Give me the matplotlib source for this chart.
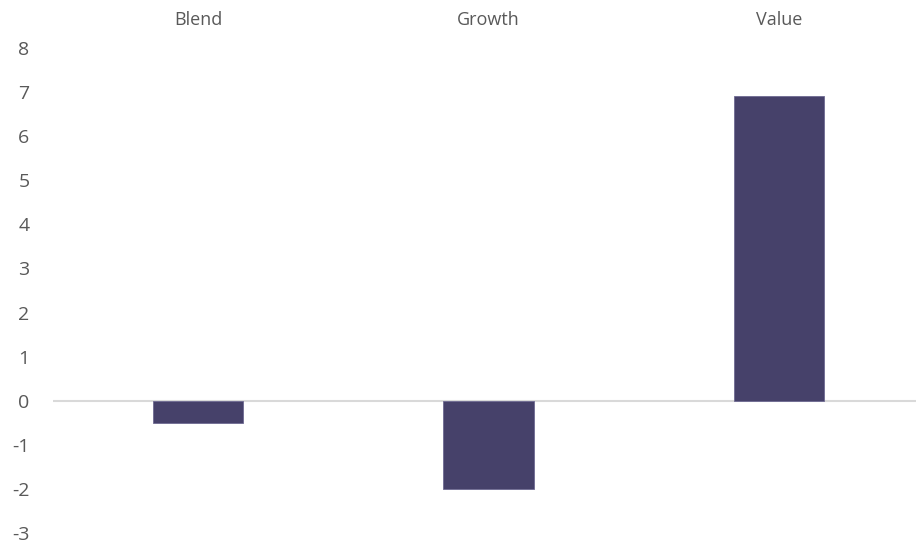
import matplotlib
matplotlib.use('Agg')
import matplotlib.pyplot as plt

categories = ['Blend', 'Growth', 'Value']
values = [-0.5, -2.0, 6.9]
y_ticks = [-3, -2, -1, 0, 1, 2, 3, 4, 5, 6, 7, 8]

plt.rcParams['font.family'] = ['Open Sans', 'DejaVu Sans']


def main():
    fig = plt.figure(figsize=(9.16, 5.44), dpi=100)
    ax = fig.add_axes([53 / 916, 11 / 544, 871 / 916, 485 / 544])

    x = list(range(len(categories)))
    ax.bar(x, values, width=0.31, color='#46416A', edgecolor='#6E6A92',
           linewidth=0.6, zorder=3)
    ax.axhline(0, color='#D9D9D9', linewidth=1.5, zorder=2)

    ax.set_xlim(-0.5, 2.5)
    ax.set_ylim(-3, 8)
    ax.set_yticks(y_ticks)
    ax.set_yticklabels([str(t) for t in y_ticks])
    ax.set_xticks(x)
    ax.set_xticklabels(categories)
    ax.xaxis.tick_top()

    ax.tick_params(axis='y', length=0, pad=17, labelsize=14, labelcolor='#595959')
    ax.tick_params(axis='x', length=0, pad=14, labelsize=13, labelcolor='#595959')
    for side in ax.spines.values():
        side.set_visible(False)

    fig.savefig('out.png', dpi=100)


if __name__ == '__main__':
    main()
